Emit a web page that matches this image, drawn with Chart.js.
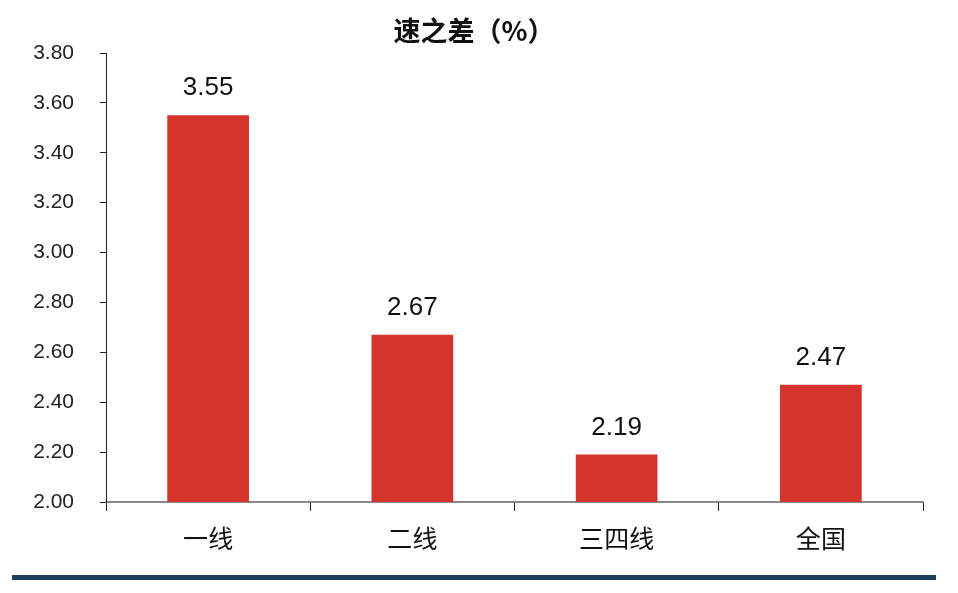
<!DOCTYPE html>
<html>
<head>
<meta charset="utf-8">
<script src="https://cdn.jsdelivr.net/npm/chart.js@4"></script>
<style>
  html, body { margin: 0; padding: 0; background: #fff; }
  #wrap { width: 958px; height: 593px; }
</style>
</head>
<body>
<div id="wrap"><canvas id="chBar"></canvas></div>
<script>
var categories = ['一线', '二线', '三四线', '全国'];
var values = [3.55, 2.67, 2.19, 2.47];
var titleText = '速之差（%）';
var barColor = '#d4342c';

var numFont = "'Liberation Sans', Arial, sans-serif";
var cjkFont = "'Noto Sans CJK SC', sans-serif";

// title, value labels and bottom rule
var extras = {
  id: 'extras',
  afterDatasetsDraw: function(chart) {
    var ctx = chart.ctx;
    ctx.save();
    ctx.fillStyle = '#111';
    ctx.font = 'bold 27px ' + cjkFont;
    ctx.textAlign = 'center';
    ctx.textBaseline = 'middle';
    ctx.fillText(titleText, 474, 31);

    ctx.font = '26px ' + numFont;
    ctx.textBaseline = 'alphabetic';
    var meta = chart.getDatasetMeta(0);
    meta.data.forEach(function(bar, i) {
      ctx.fillText(values[i].toFixed(2), bar.x, bar.y - 20);
    });

    ctx.fillStyle = '#1f3f5f';
    ctx.fillRect(12, 575, 924, 5);
    ctx.restore();
  }
};

var chBar = document.getElementById('chBar');
if (chBar) {
  new Chart(chBar, {
    type: 'bar',
    data: {
      labels: categories,
      datasets: [{
        data: values,
        backgroundColor: barColor,
        borderWidth: 0,
        barPercentage: 0.4,
        categoryPercentage: 1
      }]
    },
    options: {
      responsive: true,
      maintainAspectRatio: false,
      animation: false,
      layout: { padding: { top: 53, right: 35, bottom: 0, left: 0 } },
      plugins: { legend: { display: false }, tooltip: { enabled: false } },
      scales: {
        x: {
          afterFit: function(scale) { scale.height = 91; },
          grid: { drawOnChartArea: false, drawTicks: true, tickLength: 9, color: '#222', offset: true },
          border: { display: true, color: '#888', width: 2 },
          ticks: { color: '#111', font: { family: cjkFont, size: 25 }, padding: 12 }
        },
        y: {
          min: 2,
          max: 3.8,
          afterFit: function(scale) { scale.width = 106; },
          grid: { drawOnChartArea: false, drawTicks: true, tickLength: 6, color: '#222' },
          border: { display: true, color: '#222', width: 1 },
          ticks: {
            stepSize: 0.2,
            color: '#222',
            padding: 26,
            font: { family: numFont, size: 21 },
            callback: function(v) { return Number(v).toFixed(2); }
          }
        }
      }
    },
    plugins: [extras]
  });
}
</script>
</body>
</html>
